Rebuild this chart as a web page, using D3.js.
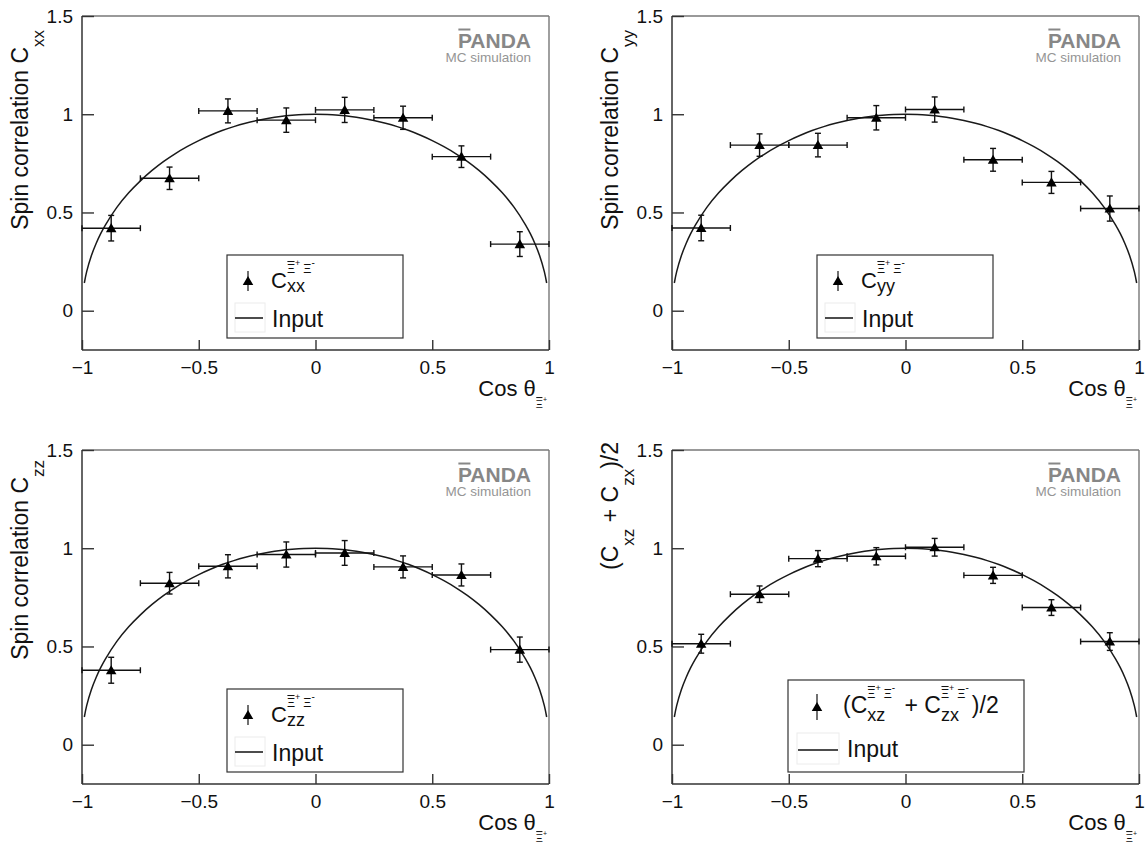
<!DOCTYPE html>
<html><head><meta charset="utf-8">
<script src="https://cdn.jsdelivr.net/npm/d3@7"></script>
<style>
body{margin:0;background:#fff}
svg text{font-family:"Liberation Sans",Arial,Helvetica,sans-serif}
</style>
</head><body>
<svg id="chart" width="1145" height="844"></svg>
<script>
// ---------------- data ----------------
const binCenters = [-0.875, -0.625, -0.375, -0.125, 0.125, 0.375, 0.625, 0.875];
const binHalfWidth = 0.125;

const cxxValues = [0.420, 0.674, 1.017, 0.970, 1.022, 0.982, 0.784, 0.339];
const cxxErrors = [0.065, 0.057, 0.061, 0.062, 0.064, 0.059, 0.055, 0.063];

const cyyValues = [0.421, 0.843, 0.843, 0.982, 1.024, 0.768, 0.653, 0.520];
const cyyErrors = [0.065, 0.057, 0.060, 0.062, 0.064, 0.058, 0.056, 0.064];

const czzValues = [0.379, 0.822, 0.908, 0.968, 0.976, 0.905, 0.864, 0.484];
const czzErrors = [0.066, 0.055, 0.059, 0.064, 0.063, 0.056, 0.056, 0.064];

const cxzValues = [0.514, 0.766, 0.947, 0.959, 1.005, 0.862, 0.698, 0.525];
const cxzErrors = [0.048, 0.042, 0.041, 0.044, 0.045, 0.041, 0.040, 0.045];

const inputCos = [-0.99, -0.98, -0.96, -0.94, -0.92, -0.90, -0.85, -0.80, -0.75, -0.70, -0.65, -0.60,
  -0.55, -0.50, -0.45, -0.40, -0.35, -0.30, -0.25, -0.20, -0.15, -0.10, -0.05, 0.00,
  0.05, 0.10, 0.15, 0.20, 0.25, 0.30, 0.35, 0.40, 0.45, 0.50, 0.55, 0.60, 0.65, 0.70,
  0.75, 0.80, 0.85, 0.90, 0.92, 0.94, 0.96, 0.98, 0.99];
const inputValues = [0.141, 0.199, 0.280, 0.341, 0.392, 0.436, 0.527, 0.600, 0.661, 0.714, 0.760, 0.800,
  0.835, 0.866, 0.893, 0.917, 0.937, 0.954, 0.968, 0.980, 0.989, 0.995, 0.999, 1.000,
  0.999, 0.995, 0.989, 0.980, 0.968, 0.954, 0.937, 0.917, 0.893, 0.866, 0.835, 0.800, 0.760, 0.714,
  0.661, 0.600, 0.527, 0.436, 0.392, 0.341, 0.280, 0.199, 0.141];

const xTickValues = [-1, -0.5, 0, 0.5, 1];
const xTickLabels = ["\u22121", "\u22120.5", "0", "0.5", "1"];
const yTickValues = [0, 0.5, 1, 1.5];
const yTickLabels = ["0", "0.5", "1", "1.5"];
const xDomain = [-1, 1];
const yDomain = [-0.2, 1.5];

// ---------------- layout ----------------
const W = 467, H = 334;
const FONT_INK = "#111";
const NB = "\u00A0";
const svg = d3.select("#chart");

function rich(parent, x, y, items, anchor, rotate, fill) {
  const g = parent.append("g")
    .attr("transform", `translate(${x},${y})` + (rotate ? ` rotate(${rotate})` : ""))
    .attr("fill", fill || FONT_INK);
  const inner = g.append("g");
  let cursor = 0;
  function place(it, x0) {
    const t = inner.append("text").attr("x", x0).attr("y", it.dy || 0)
      .attr("font-size", it.fs).style("white-space", "pre").text(it.t);
    if (it.weight) t.attr("font-weight", it.weight);
    const w = t.node().getComputedTextLength();
    if (it.over) {
      const oy = (it.dy || 0) - (it.overK || 0.95) * it.fs;
      inner.append("line").attr("x1", x0 + 0.5).attr("x2", x0 + (it.overW ? it.overW * it.fs : w) - 0.5)
        .attr("y1", oy).attr("y2", oy)
        .attr("stroke", fill || FONT_INK).attr("stroke-width", it.overSW || 1);
    }
    return w + (it.kern || 0);
  }
  for (const it of items) {
    if (it.stack) {
      let maxW = 0;
      for (const row of it.stack) {
        let c = cursor;
        for (const r of row) c += place(r, c);
        maxW = Math.max(maxW, c - cursor);
      }
      cursor += maxW + (it.kern || 0);
    } else cursor += place(it, cursor);
  }
  const shift = anchor === "end" ? -cursor : anchor === "middle" ? -cursor / 2 : 0;
  inner.attr("transform", `translate(${shift},0)`);
  return g;
}

const xiSup = [
  {t: "\u039E", fs: 12.5, dy: -14.6, over: true},
  {t: "+", fs: 9, dy: -22, kern: 3},
  {t: "\u039E", fs: 12.5, dy: -14.6},
  {t: "-", fs: 10, dy: -22}
];

const stdLegendBox = {x: 145, y: 239, w: 176, h: 83, mx: 166, my: 265, ml: 10,
  tx: 189, tb: 272, lx1: 153, lx2: 181, ly: 302, lt: 190, lb: 311, fb: [153, 287, 30, 29]};

const panels = [
  {left: 82, top: 16, values: cxxValues, errors: cxxErrors, titleEnd: 14,
   yTitle: [{t: "Spin correlation C", fs: 23}, {t: "xx", fs: 17, dy: 16}],
   legendLabel: [{t: "C", fs: 22}, {stack: [xiSup, [{t: "xx", fs: 18, dy: 4.4}]]}],
   box: stdLegendBox},
  {left: 672, top: 16, values: cyyValues, errors: cyyErrors, titleEnd: 14,
   yTitle: [{t: "Spin correlation C", fs: 23}, {t: "yy", fs: 17, dy: 16}],
   legendLabel: [{t: "C", fs: 22}, {stack: [xiSup, [{t: "yy", fs: 18, dy: 4.4}]]}],
   box: stdLegendBox},
  {left: 82, top: 450, values: czzValues, errors: czzErrors, titleEnd: 10,
   yTitle: [{t: "Spin correlation C", fs: 23}, {t: "zz", fs: 17, dy: 16}],
   legendLabel: [{t: "C", fs: 22}, {stack: [xiSup, [{t: "zz", fs: 18, dy: 4.4}]]}],
   box: stdLegendBox},
  {left: 672, top: 450, values: cxzValues, errors: cxzErrors, titleEnd: -8,
   yTitle: [{t: "(C", fs: 23}, {t: "xz", fs: 17, dy: 16}, {t: NB + "+" + NB + "C", fs: 23},
            {t: "zx", fs: 17, dy: 16}, {t: ")/2", fs: 23}],
   legendLabel: [{t: "(C", fs: 23}, {stack: [xiSup, [{t: "xz", fs: 18, dy: 8}]], kern: 3},
                 {t: NB + "+" + NB + "C", fs: 23}, {stack: [xiSup, [{t: "zx", fs: 18, dy: 8}]], kern: 3},
                 {t: ")/2", fs: 23}],
   box: {x: 116, y: 230, w: 236, h: 92, mx: 145, my: 257, ml: 13,
         tx: 171, tb: 263, lx1: 126, lx2: 166, ly: 300, lt: 175, lb: 307, fb: [125, 283, 42, 31]}}
];

const tri = d3.symbol().type(d3.symbolTriangle).size(48);

panels.forEach(p => {
  const g = svg.append("g").attr("transform", `translate(${p.left},${p.top})`);
  const x = d3.scaleLinear().domain(xDomain).range([0, W]);
  const y = d3.scaleLinear().domain(yDomain).range([H, 0]);

  // frame: top & right lighter
  g.append("line").attr("x1", 0).attr("x2", W).attr("y1", 0).attr("y2", 0).attr("stroke", "#777").attr("stroke-width", 1.4);
  g.append("line").attr("x1", W).attr("x2", W).attr("y1", 0).attr("y2", H).attr("stroke", "#777").attr("stroke-width", 1.4);

  // axes
  const xa = g.append("g").attr("transform", `translate(0,${H})`)
    .call(d3.axisBottom(x).tickValues(xTickValues).tickFormat((d, i) => xTickLabels[i])
      .tickSizeInner(-10).tickSizeOuter(0).tickPadding(10.5));
  const ya = g.append("g")
    .call(d3.axisLeft(y).tickValues(yTickValues).tickFormat((d, i) => yTickLabels[i])
      .tickSizeInner(-12).tickSizeOuter(0).tickPadding(9));
  [xa, ya].forEach(a => {
    a.attr("font-size", 19).attr("font-family", null).attr("color", "#333");
    a.select(".domain").remove();
    a.selectAll(".tick line").attr("stroke-width", 1.4);
    a.selectAll("text").attr("fill", FONT_INK);
  });
  g.append("line").attr("x1", 0).attr("x2", W).attr("y1", H).attr("y2", H).attr("stroke", "#333").attr("stroke-width", 1.5);
  g.append("line").attr("x1", 0).attr("x2", 0).attr("y1", 0).attr("y2", H).attr("stroke", "#333").attr("stroke-width", 1.5);

  // input curve
  const line = d3.line().x((d, i) => x(inputCos[i])).y(d => y(d)).curve(d3.curveCatmullRom);
  g.append("path").attr("d", line(inputValues)).attr("fill", "none").attr("stroke", "#1a1a1a").attr("stroke-width", 1.5);

  // data points
  const pts = binCenters.map((c, i) => ({c, v: p.values[i], e: p.errors[i]}));
  const pg = g.append("g").attr("stroke", "#111").attr("stroke-width", 1.4).attr("fill", "none");
  pts.forEach(d => {
    const cx = x(d.c), cy = y(d.v);
    const xl = x(d.c - binHalfWidth), xr = x(d.c + binHalfWidth);
    const yt = y(d.v + d.e), yb = y(d.v - d.e);
    pg.append("line").attr("x1", xl).attr("x2", xr).attr("y1", cy).attr("y2", cy);
    pg.append("line").attr("x1", xl).attr("x2", xl).attr("y1", cy - 3).attr("y2", cy + 3);
    pg.append("line").attr("x1", xr).attr("x2", xr).attr("y1", cy - 3).attr("y2", cy + 3);
    pg.append("line").attr("x1", cx).attr("x2", cx).attr("y1", yt).attr("y2", yb);
    pg.append("line").attr("x1", cx - 3).attr("x2", cx + 3).attr("y1", yt).attr("y2", yt);
    pg.append("line").attr("x1", cx - 3).attr("x2", cx + 3).attr("y1", yb).attr("y2", yb);
  });
  g.append("g").selectAll("path").data(pts).join("path")
    .attr("d", tri).attr("transform", d => `translate(${x(d.c)},${y(d.v) + 1})`).attr("fill", "#000");

  // legend
  const b = p.box;
  g.append("rect").attr("x", b.x).attr("y", b.y).attr("width", b.w).attr("height", b.h)
    .attr("fill", "#fff").attr("stroke", "#333").attr("stroke-width", 1.2);
  g.append("rect").attr("x", b.fb[0]).attr("y", b.fb[1]).attr("width", b.fb[2]).attr("height", b.fb[3])
    .attr("fill", "none").attr("stroke", "#ececec").attr("stroke-width", 1);
  g.append("line").attr("x1", b.mx).attr("x2", b.mx).attr("y1", b.my - b.ml).attr("y2", b.my + b.ml)
    .attr("stroke", "#111").attr("stroke-width", 1.2);
  g.append("path").attr("d", tri).attr("transform", `translate(${b.mx},${b.my + 1})`).attr("fill", "#000");
  rich(g, b.tx, b.tb, p.legendLabel, "start");
  g.append("line").attr("x1", b.lx1).attr("x2", b.lx2).attr("y1", b.ly).attr("y2", b.ly)
    .attr("stroke", "#111").attr("stroke-width", 1.5);
  rich(g, b.lt, b.lb, [{t: "Input", fs: 23}], "start");

  // PANDA logo
  rich(g, W - 18, 32, [{t: "PANDA", fs: 21, weight: "bold", over: true, overW: 0.62, overK: 0.88, overSW: 2}], "end", null, "#878787");
  rich(g, W - 18, 46, [{t: "MC simulation", fs: 13.5}], "end", null, "#959595");

  // axis titles
  rich(g, W - 2, H + 46, [{t: "Cos" + NB + "\u03B8", fs: 22}, {t: "\u039E", fs: 11, dy: 12, over: true}, {t: "+", fs: 7, dy: 5.5}], "end");
  rich(g, -54.5, p.titleEnd, p.yTitle, "end", -90);
});
</script>
</body></html>
